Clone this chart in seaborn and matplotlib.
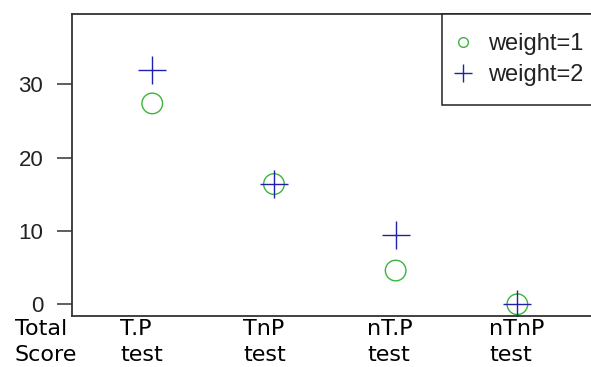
import matplotlib
matplotlib.use("Agg")
import matplotlib.pyplot as plt
from matplotlib.lines import Line2D
import seaborn as sns
import pandas as pd

# Scores per test, two weighting schemes
tests = ["T.P", "TnP", "nT.P", "nTnP"]
score_weight1 = [27.4, 16.4, 4.6, 0.0]
score_weight2 = [32.0, 16.4, 9.45, 0.0]
series_names = ["weight=1", "weight=2"]
column_labels = ["Total\nScore", "T.P\ntest", "TnP\ntest", "nT.P\ntest", "nTnP\ntest"]
y_ticks = [0, 10, 20, 30]

df = pd.DataFrame({
    "pos": list(range(1, len(tests) + 1)) * 2,
    "score": score_weight1 + score_weight2,
    "series": [series_names[0]] * len(tests) + [series_names[1]] * len(tests),
})

sns.set_theme(style="white")
plt.rcParams["font.family"] = ["Liberation Sans", "DejaVu Sans"]

GREEN = "#3cb43c"
BLUE = "#2020a8"
AX_COL = "#333333"

W, H = 591, 367
fig = plt.figure(figsize=(W / 100, H / 100), dpi=100)
ax = fig.add_axes([72.3 / W, 1 - 316 / H, (600 - 72.3) / W, (316 - 14) / H])

d1 = df[df["series"] == series_names[0]]
d2 = df[df["series"] == series_names[1]]
sns.scatterplot(data=d1, x="pos", y="score", marker="o", s=220,
                facecolors="none", edgecolor=GREEN, linewidth=1.0, ax=ax,
                legend=False)
sns.scatterplot(data=d2, x="pos", y="score", marker="+", s=430,
                color=BLUE, linewidth=1.0, ax=ax, legend=False)

ax.set_xlim(0.343, 4.679)
ax.set_ylim(-1.6, 39.6)
ax.set_xticks([])
ax.set_yticks(y_ticks)
ax.set_yticklabels([str(t) for t in y_ticks])
ax.set_xlabel("")
ax.set_ylabel("")
ax.tick_params(axis="y", length=11, width=1.1, color=AX_COL, pad=10,
               labelsize=16, labelcolor="#222222", left=True)
for side in ["left", "bottom", "top", "right"]:
    ax.spines[side].set_color(AX_COL)
    ax.spines[side].set_linewidth(1.3)
    ax.spines[side].set_visible(True)

handles = [
    Line2D([], [], marker="o", linestyle="none", markersize=7,
           markerfacecolor="none", markeredgecolor=GREEN, markeredgewidth=1.0),
    Line2D([], [], marker="+", linestyle="none", markersize=13,
           color=BLUE, markeredgewidth=1.0),
]
leg = fig.legend(handles, series_names, loc="upper left",
                 bbox_to_anchor=(442 / W, 1 - 14 / H), borderaxespad=0,
                 frameon=True, fancybox=False, shadow=False, framealpha=1,
                 fontsize=17, handlelength=0.2, handletextpad=0.95,
                 borderpad=0.8, labelspacing=0.4)
leg.get_frame().set_edgecolor("#222222")
leg.get_frame().set_linewidth(1.1)
for t in leg.get_texts():
    t.set_color("#222222")

label_left = [15, 120, 243, 367, 489]
for lx, lab in zip(label_left, column_labels):
    fig.text(lx / W, 1 - 319 / H, lab, ha="left", va="top",
             fontsize=16, family="DejaVu Sans", color="black", linespacing=1.38)

fig.savefig("out.png", dpi=100)
